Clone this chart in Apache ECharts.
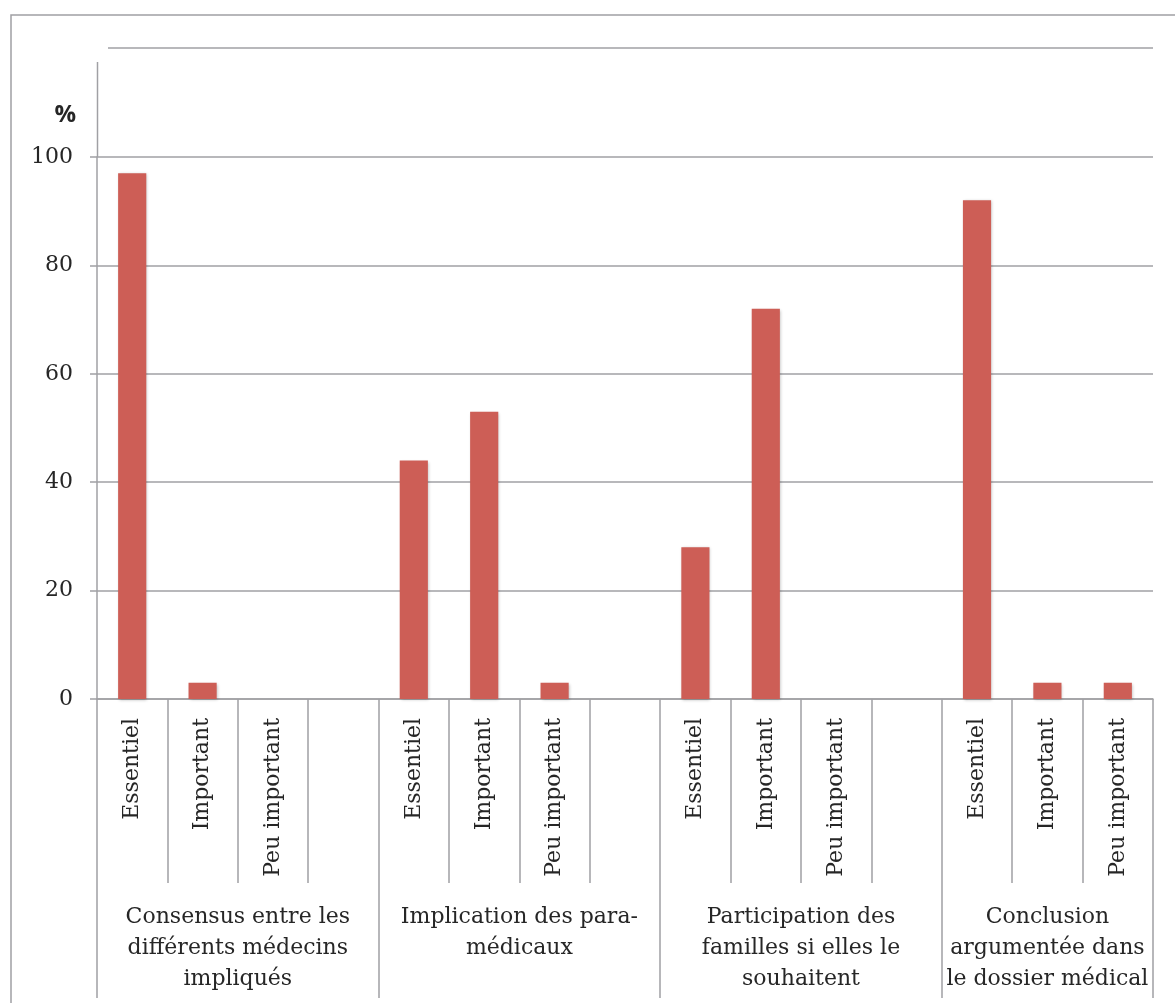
<!DOCTYPE html>
<html>
<head>
<meta charset="utf-8">
<script src="https://cdn.jsdelivr.net/npm/echarts@6/dist/echarts.min.js"></script>
<style>html,body{margin:0;padding:0;background:#fff}#c{width:1175px;height:1003px}</style>
</head>
<body>
<div id="c"></div>
<script>
// ---- data ----
const groups = [
  'Consensus entre les\ndifférents médecins\nimpliqués',
  'Implication des para-\nmédicaux',
  'Participation des\nfamilles si elles le\nsouhaitent',
  'Conclusion\nargumentée dans\nle dossier médical'
];
const levels = ['Essentiel', 'Important', 'Peu important'];
const values = [
  [97, 3, 0],
  [44, 53, 3],
  [28, 72, 0],
  [92, 3, 3]
];
const yTicks = [0, 20, 40, 60, 80, 100];

// ---- build slots (each group followed by an empty gap slot, except last) ----
const slotLabels = [];
const slotValues = [];
const groupStarts = [];
const groupCenters = [];
groups.forEach((g, gi) => {
  groupStarts.push(slotLabels.length);
  levels.forEach((lv, li) => {
    slotLabels.push(lv);
    slotValues.push(values[gi][li]);
  });
  if (gi < groups.length - 1) {
    slotLabels.push(' ');
    slotValues.push('-');
  }
});
const nSlots = slotLabels.length;
groups.forEach((g, gi) => {
  const s = groupStarts[gi];
  const e = gi < groups.length - 1 ? groupStarts[gi + 1] : nSlots;
  groupCenters.push((s + e) / 2);
});
const groupTicks = groupStarts.concat([nSlots]);

const txt = '#262626';
const serif = '"DejaVu Serif", "Liberation Serif", serif';
const gridCol = '#a0a0a4';

const chart = echarts.init(document.getElementById('c'));
chart.setOption({
  animation: false,
  grid: { left: 97, right: 22, top: 157, bottom: 304, containLabel: false },
  xAxis: [
    {
      type: 'category',
      data: slotLabels.map((l, i) => ({ value: i + ':' + l })),
      boundaryGap: true,
      axisLine: { show: true, lineStyle: { color: gridCol, width: 1.5 } },
      axisTick: { show: true, alignWithLabel: false, length: 184, lineStyle: { color: gridCol, width: 1.5 } },
      axisLabel: {
        rotate: 90, margin: 19, interval: 0,
        fontFamily: serif, fontSize: 22, color: txt,
        formatter: v => v.split(':')[1]
      }
    },
    {
      type: 'value',
      position: 'bottom',
      min: 0, max: nSlots,
      axisLine: { show: false },
      splitLine: { show: false },
      axisTick: { show: true, customValues: groupTicks, length: 299, lineStyle: { color: gridCol, width: 1.5 } },
      axisLabel: {
        customValues: groupCenters, margin: 203,
        fontFamily: serif, fontSize: 22, color: txt, lineHeight: 31, align: 'center',
        formatter: v => groups[groupCenters.indexOf(v)] || ''
      }
    }
  ],
  yAxis: {
    type: 'value', min: 0, max: 100, interval: 20,
    name: '%', nameLocation: 'end', nameGap: 30,
    nameTextStyle: { fontFamily: '"Open Sans", "Liberation Sans", sans-serif', fontWeight: 'bold', fontSize: 24, color: txt, align: 'right', padding: [0, 21, 0, 0] },
    axisLine: { show: true, lineStyle: { color: gridCol, width: 1.5 } },
    axisTick: { show: true, length: 7, lineStyle: { color: gridCol, width: 1.5 } },
    splitLine: { show: true, lineStyle: { color: gridCol, width: 1.5 } },
    axisLabel: { margin: 24, fontFamily: serif, fontSize: 22, color: txt,
      customValues: yTicks }
  },
  series: [{
    type: 'bar',
    xAxisIndex: 0,
    data: slotValues,
    barWidth: '40%',
    itemStyle: { color: '#cd5e56', shadowColor: 'rgba(0,0,0,0.25)', shadowBlur: 3, shadowOffsetX: 1, shadowOffsetY: 1 }
  }],
  graphic: [
    { type: 'rect', shape: { x: 11, y: 15, width: 1180, height: 1010 }, style: { fill: 'none', stroke: gridCol, lineWidth: 1.5 }, silent: true, z: -1 },
    { type: 'line', shape: { x1: 108, y1: 48, x2: 1153, y2: 48 }, style: { stroke: gridCol, lineWidth: 1.5 }, silent: true },
    { type: 'line', shape: { x1: 97.5, y1: 62, x2: 97.5, y2: 157 }, style: { stroke: gridCol, lineWidth: 1.5 }, silent: true }
  ]
});
</script>
</body>
</html>
